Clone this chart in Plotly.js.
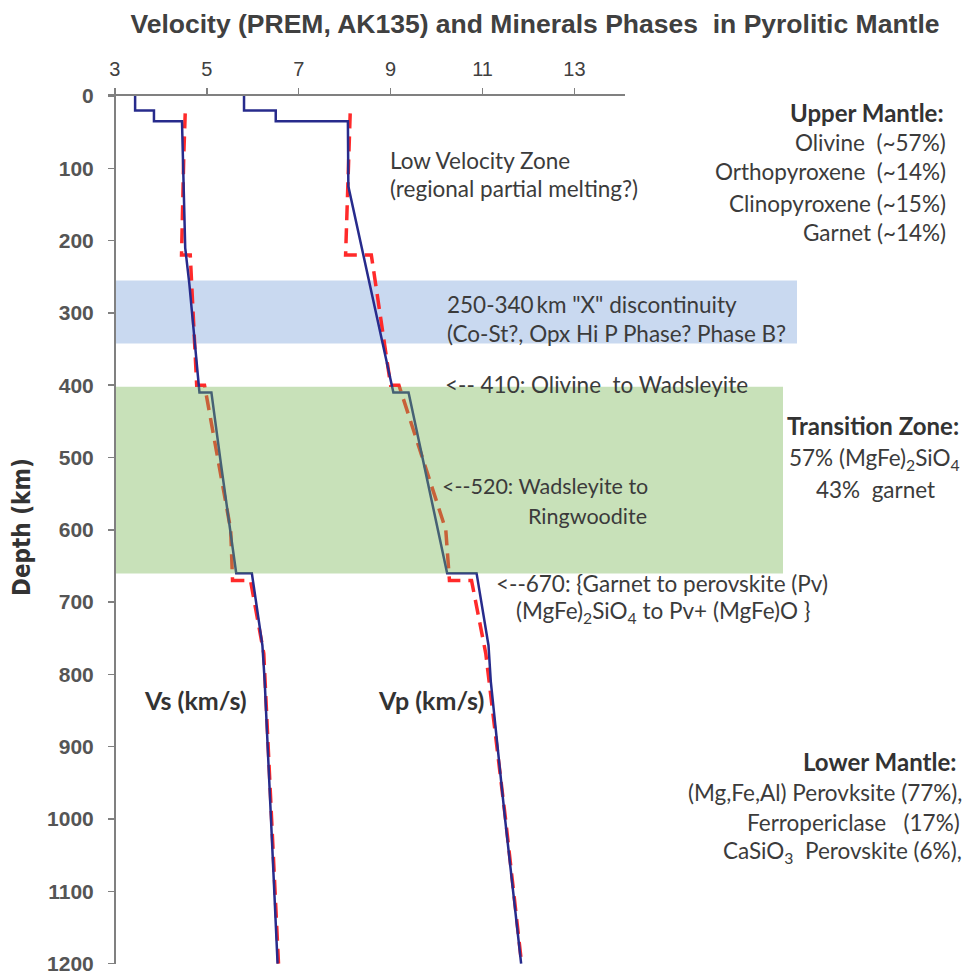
<!DOCTYPE html>
<html>
<head>
<meta charset="utf-8">
<script src="https://cdn.plot.ly/plotly-3.0.1.min.js"></script>
<style>
html,body{margin:0;padding:0;background:#fff;}
#chart{width:967px;height:971px;}
</style>
</head>
<body>
<div id="chart"></div>
<script>
// ---- data ----
const xTicks = [3, 5, 7, 9, 11, 13];
const yTicks = [0, 100, 200, 300, 400, 500, 600, 700, 800, 900, 1000, 1100, 1200];

// solid (dark blue) model
const vsSolidDepth = [0, 20, 20, 35, 35, 120, 210, 260, 310, 360, 410, 410, 460, 510, 560, 610, 660, 660, 710, 760, 810, 1000, 1200];
const vsSolidVel   = [3.44, 3.44, 3.85, 3.85, 4.46, 4.49, 4.53, 4.62, 4.69, 4.77, 4.84, 5.10, 5.20, 5.31, 5.42, 5.53, 5.64, 5.98, 6.10, 6.21, 6.26, 6.40, 6.54];
const vpSolidDepth = [0, 20, 20, 35, 35, 125, 410, 410, 660, 660, 760, 810, 1000, 1200];
const vpSolidVel   = [5.81, 5.81, 6.50, 6.50, 8.07, 8.08, 9.06, 9.39, 10.23, 10.87, 11.13, 11.18, 11.49, 11.84];

// dashed (red) model
const vsDashDepth = [24, 80, 220, 220, 400, 400, 600, 670, 670, 771, 1000, 1200];
const vsDashVel   = [4.53, 4.50, 4.45, 4.64, 4.78, 4.95, 5.52, 5.56, 5.95, 6.24, 6.41, 6.56];
const vpDashDepth = [24, 80, 220, 220, 400, 400, 600, 670, 670, 771, 1000, 1200];
const vpDashVel   = [8.12, 8.09, 8.02, 8.58, 9.00, 9.18, 10.20, 10.28, 10.76, 11.07, 11.50, 11.85];

// depth bands
const xBand = [255, 342];       // "X" discontinuity band (km)
const tzBand = [402, 660];      // transition zone band (km)

const titleText = 'Velocity (PREM, AK135) and Minerals Phases \u00a0in Pyrolitic Mantle';
const yTitleText = 'Depth (km)';

// ---- layout helpers (pixel -> paper) ----
const L = 108, R = 625, T = 96, B = 964;
const px = x => (x - L) / (R - L);
const py = y => (B - y) / (B - T);
const dp = d => 1 - d / 1200;

const txtFont = {family: 'Lato, "Open Sans", "Noto Sans", sans-serif', size: 22.5, color: '#3b3b3b'};
const boldFont = Object.assign({}, txtFont, {size: 24, weight: 'bold', color: '#333333'});
const labFont = Object.assign({}, txtFont, {size: 25, weight: 'bold', color: '#333333'});

function ann(text, x, y, anchor, font) {
  return {xref: 'paper', yref: 'paper', x: px(x), y: py(y), xanchor: anchor, yanchor: 'middle',
          text: text, showarrow: false, font: font || txtFont, align: anchor === 'left' ? 'left' : (anchor === 'right' ? 'right' : 'center')};
}

const annotations = [
  ann('Low Velocity Zone', 388, 160, 'left'),
  ann('(regional partial melting?)', 388, 189, 'left'),
  ann('250-340\u2009km "X" discontinuity', 445, 304, 'left'),
  ann('(Co-St?, Opx Hi P Phase? Phase B?', 445, 333, 'left'),
  ann('&lt;-- 410: Olivine \u00a0to Wadsleyite', 443, 384, 'left'),
  ann('&lt;--520: Wadsleyite to', 650, 486, 'right', Object.assign({}, txtFont, {size: 21.5})),
  ann('Ringwoodite', 649, 516, 'right', Object.assign({}, txtFont, {size: 21.5})),
  ann('&lt;--670: {Garnet to perovskite (Pv)', 662, 583, 'center'),
  ann('(MgFe)<sub>2</sub>SiO<sub>4</sub> to Pv+ (MgFe)O }', 663, 612, 'center'),
  ann('Upper Mantle:', 946, 112, 'right', boldFont),
  ann('Olivine \u00a0(~57%)', 948, 142, 'right'),
  ann('Orthopyroxene \u00a0(~14%)', 948, 172, 'right'),
  ann('Clinopyroxene (~15%)', 948, 203, 'right'),
  ann('Garnet (~14%)', 948, 233, 'right'),
  ann('Transition Zone:', 873, 426, 'center', boldFont),
  ann('57% (MgFe)<sub>2</sub>SiO<sub>4</sub>', 874, 459, 'center'),
  ann('43% \u00a0garnet', 875, 489, 'center'),
  ann('Vs (km/s)', 195, 700, 'center', labFont),
  ann('Vp (km/s)', 431, 700, 'center', labFont),
  ann('Lower Mantle:', 958, 761, 'right', boldFont),
  ann('(Mg,Fe,Al) Perovksite (77%),', 964, 792, 'right'),
  ann('Ferropericlase \u00a0 (17%)', 962, 822, 'right'),
  ann('CaSiO<sub>3</sub> \u00a0Perovskite (6%),', 964, 852, 'right'),
  {xref: 'paper', yref: 'paper', x: px(22), y: py(527), xanchor: 'center', yanchor: 'middle', textangle: -90,
   text: yTitleText, showarrow: false,
   font: {family: '"Liberation Sans Narrow", "DejaVu Sans Condensed", "Arial Narrow", sans-serif', size: 24, weight: 'bold', color: '#333333'}}
];

const shapes = [
  {type: 'rect', xref: 'paper', yref: 'paper', x0: px(116), x1: px(797), y0: dp(xBand[1]), y1: dp(xBand[0]),
   fillcolor: '#c9d9f0', line: {width: 0}, layer: 'below'},
  {type: 'rect', xref: 'paper', yref: 'paper', x0: px(116), x1: px(783), y0: dp(tzBand[1]), y1: dp(tzBand[0]),
   fillcolor: 'rgb(118,180,80)', opacity: 0.4, line: {width: 0}, layer: 'above'}
];

const redLine = {color: '#ff2a2a', width: 3.5, dash: '15px,8px'};
const blueLine = {color: '#272b8c', width: 2.5};

const traces = [
  {x: vsDashVel, y: vsDashDepth, type: 'scatter', mode: 'lines', line: redLine, hoverinfo: 'skip', showlegend: false},
  {x: vpDashVel, y: vpDashDepth, type: 'scatter', mode: 'lines', line: redLine, hoverinfo: 'skip', showlegend: false},
  {x: vsSolidVel, y: vsSolidDepth, type: 'scatter', mode: 'lines', line: blueLine, hoverinfo: 'skip', showlegend: false},
  {x: vpSolidVel, y: vpSolidDepth, type: 'scatter', mode: 'lines', line: blueLine, hoverinfo: 'skip', showlegend: false}
];

const layout = {
  width: 967, height: 971,
  margin: {l: L, r: 967 - R, t: T, b: 971 - B, pad: 0},
  paper_bgcolor: '#ffffff', plot_bgcolor: 'rgba(0,0,0,0)',
  showlegend: false,
  title: {text: '<b>' + titleText + '</b>', x: 535 / 967, xref: 'container', xanchor: 'center',
          y: 1 - 24 / 971, yref: 'container', yanchor: 'middle',
          font: {family: '"Liberation Sans", Arial, sans-serif', size: 26.5, color: '#404040'}},
  xaxis: {side: 'top', range: [2.85, 14.1], tickvals: xTicks, ticktext: xTicks.map(String),
          ticks: 'outside', ticklen: 6, tickwidth: 1.5, tickcolor: '#808080', ticklabelstandoff: 4,
          ticklabeloverflow: 'allow',
          showline: true, linecolor: '#808080', linewidth: 2, showgrid: false, zeroline: false,
          tickfont: {family: '"Liberation Sans", Arial, sans-serif', size: 20, color: '#404040'}, fixedrange: true},
  yaxis: {range: [1200.6, 0], anchor: 'free', position: px(115), tickvals: yTicks, ticktext: yTicks.map(String),
          ticks: 'outside', ticklen: 6, tickwidth: 1.5, tickcolor: '#808080', ticklabelstandoff: 10,
          ticklabeloverflow: 'allow',
          showline: true, linecolor: '#808080', linewidth: 2, showgrid: false, zeroline: false,
          tickfont: {family: '"Liberation Sans", Arial, sans-serif', size: 21, weight: 'bold', color: '#555555'}, fixedrange: true},
  shapes: shapes,
  annotations: annotations
};

Plotly.newPlot('chart', traces, layout, {staticPlot: true, displayModeBar: false});
</script>
</body>
</html>
